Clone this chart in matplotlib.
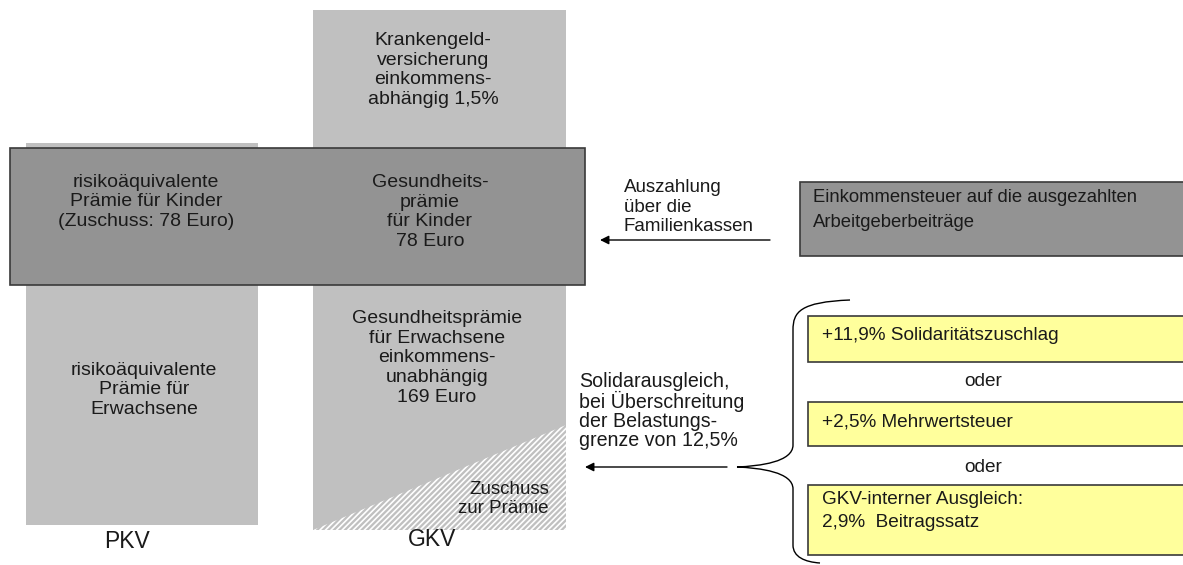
import matplotlib.pyplot as plt
from matplotlib.patches import Rectangle, Polygon, PathPatch
from matplotlib.path import Path

plt.rcParams['font.family'] = ['Liberation Sans', 'DejaVu Sans']

# Labels
col_labels = ['PKV', 'GKV']
gkv_top = 'Krankengeld-\nversicherung\neinkommens-\nabhängig 1,5%'
gkv_kids = 'Gesundheits-\nprämie\nfür Kinder\n78 Euro'
pkv_kids = 'risikoäquivalente\nPrämie für Kinder\n(Zuschuss: 78 Euro)'
gkv_adults = 'Gesundheitsprämie\nfür Erwachsene\neinkommens-\nunabhängig\n169 Euro'
pkv_adults = 'risikoäquivalente\nPrämie für\nErwachsene'
subsidy = 'Zuschuss\nzur Prämie'
payout = 'Auszahlung\nüber die\nFamilienkassen'
solidar = 'Solidarausgleich,\nbei Überschreitung\nder Belastungs-\ngrenze von 12,5%'
tax_box = 'Einkommensteuer auf die ausgezahlten\nArbeitgeberbeiträge'
options = ['+11,9% Solidaritätszuschlag', '+2,5% Mehrwertsteuer',
           'GKV-interner Ausgleich:\n2,9%  Beitragssatz']
sep = 'oder'

light = '#c0c0c0'
dark = '#939393'
yellow = '#ffff9c'
edge = '#3a3a3a'
txt = '#1a1a1a'
fs = 14

fig = plt.figure(figsize=(11.83, 5.65), dpi=100)
ax = fig.add_axes([0, 0, 1, 1])
ax.set_xlim(0, 1183)
ax.set_ylim(565, 0)
ax.axis('off')

# columns
ax.add_patch(Rectangle((26, 143), 232, 382, facecolor=light, edgecolor='none'))
ax.add_patch(Rectangle((313, 10), 253, 520, facecolor=light, edgecolor='none'))
plt.rcParams['hatch.linewidth'] = 1.2
ax.add_patch(Polygon([(313, 530), (566, 530), (566, 425)], closed=True,
                     facecolor=light, edgecolor='white', hatch='//////', lw=0))

# dark child box
ax.add_patch(Rectangle((10, 148), 575, 137, facecolor=dark, edgecolor=edge, lw=1.2))
ax.add_patch(Rectangle((800, 182), 390, 74, facecolor=dark, edgecolor=edge, lw=1.2))

# yellow options
ybox = [(316, 46), (402, 44), (485, 70)]
ytxt = [335, 422, 511]
for (y, h), ty, lab in zip(ybox, ytxt, options):
    ax.add_patch(Rectangle((808, y), 390, h, facecolor=yellow, edgecolor=edge, lw=1.2))
    ax.text(822, ty, lab, ha='left', va='center', fontsize=13.7, color=txt,
            linespacing=1.45)
ax.text(983, 381, sep, ha='center', va='center', fontsize=13.7, color=txt)
ax.text(983, 468, sep, ha='center', va='center', fontsize=13.7, color=txt)

# texts in columns
kw = dict(ha='center', va='center', fontsize=fs, color=txt, linespacing=1.2)
ax.text(433, 70, gkv_top, **kw)
ax.text(430, 212, gkv_kids, **kw)
ax.text(146, 202, pkv_kids, **kw)
ax.text(437, 358, gkv_adults, **kw)
ax.text(144, 390, pkv_adults, **kw)
ax.text(549, 499, subsidy, ha='right', va='center', fontsize=13.5, color=txt,
        linespacing=1.2)
ax.text(127, 542, col_labels[0], ha='center', va='center', fontsize=16.5, color=txt)
ax.text(432, 540, col_labels[1], ha='center', va='center', fontsize=16.5, color=txt)

ax.text(624, 207, payout, ha='left', va='center', fontsize=13.5, color=txt,
        linespacing=1.22)
ax.text(579, 411, solidar, ha='left', va='center', fontsize=14.1, color=txt,
        linespacing=0.98)
ax.text(813, 210, tax_box, ha='left', va='center', fontsize=13.3, color=txt,
        linespacing=1.6)

# arrows
ap = dict(arrowstyle='-|>', lw=1.0, color='black', mutation_scale=13, shrinkA=0, shrinkB=0)
ax.annotate('', xy=(600, 240), xytext=(770, 240), arrowprops=ap)
ax.annotate('', xy=(585, 467), xytext=(727, 467), arrowprops=ap)

# curly brace
verts = [(850, 300), (800, 302), (793, 312), (793, 330),
         (793, 445),
         (793, 462), (760, 466), (737, 467),
         (760, 468), (793, 472), (793, 489),
         (793, 545),
         (793, 557), (805, 562), (820, 563)]
codes = [Path.MOVETO, Path.CURVE4, Path.CURVE4, Path.CURVE4,
         Path.LINETO,
         Path.CURVE4, Path.CURVE4, Path.CURVE4,
         Path.CURVE4, Path.CURVE4, Path.CURVE4,
         Path.LINETO,
         Path.CURVE4, Path.CURVE4, Path.CURVE4]
ax.add_patch(PathPatch(Path(verts, codes), facecolor='none', edgecolor='black', lw=1.0))

fig.savefig('out.png', dpi=100)
